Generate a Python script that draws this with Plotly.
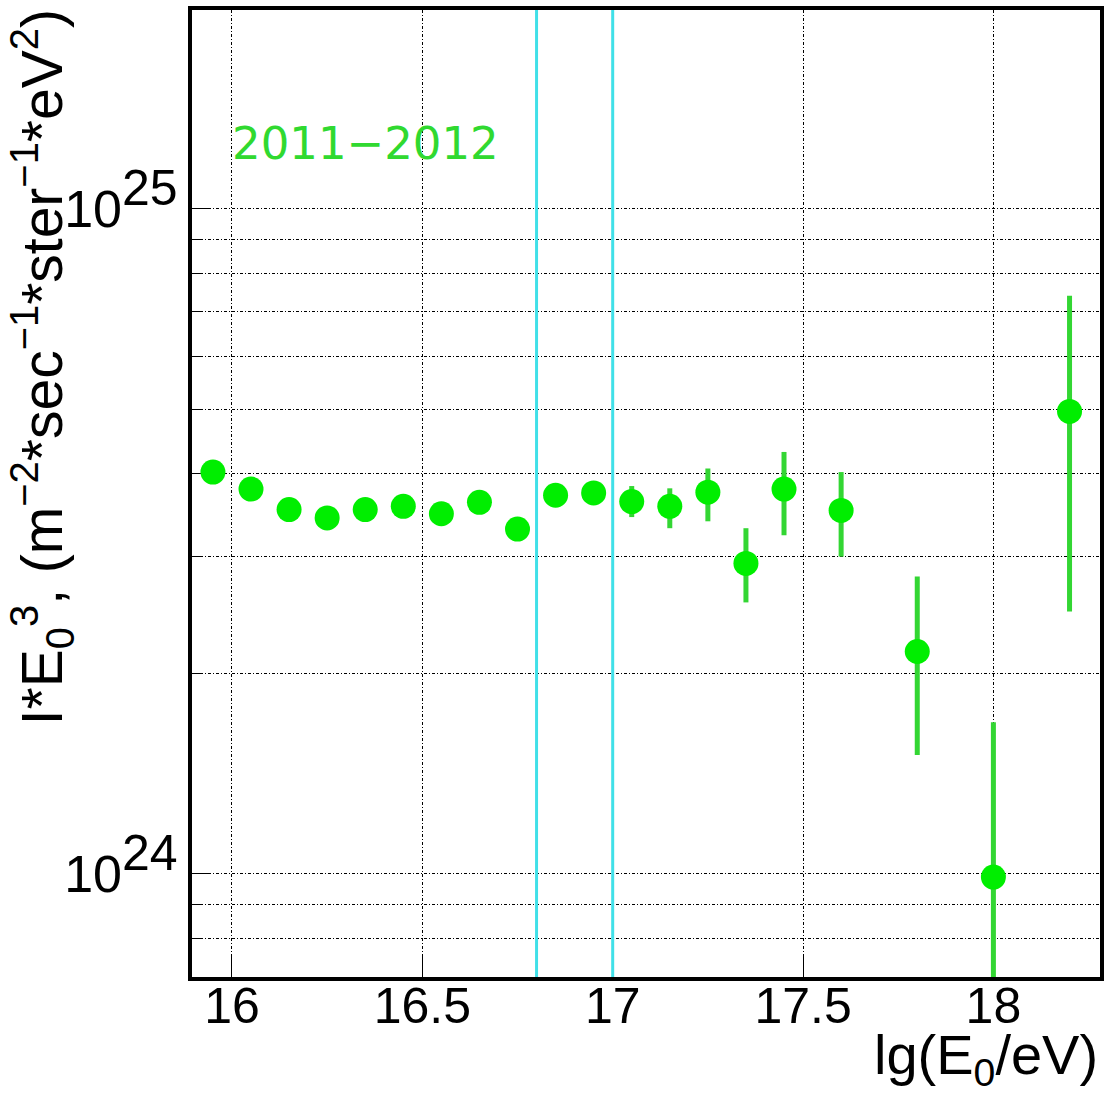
import plotly.graph_objects as go

# data (lg(E0/eV), I*E0^3 in m^-2 s^-1 sr^-1 eV^2)
lgE = [15.95, 16.05, 16.15, 16.25, 16.35, 16.45, 16.55, 16.65, 16.75, 16.85,
       16.95, 17.05, 17.15, 17.25, 17.35, 17.45, 17.6, 17.8, 18.0, 18.2]
flux = [4.02e24, 3.79e24, 3.53e24, 3.43e24, 3.53e24, 3.57e24, 3.48e24, 3.62e24,
        3.30e24, 3.71e24, 3.74e24, 3.63e24, 3.57e24, 3.75e24, 2.93e24, 3.79e24,
        3.52e24, 2.16e24, 0.989e24, 4.96e24]
err_hi = [4.05e24, 3.82e24, 3.56e24, 3.46e24, 3.56e24, 3.60e24, 3.51e24, 3.65e24,
          3.33e24, 3.75e24, 3.79e24, 3.83e24, 3.80e24, 4.07e24, 3.31e24, 4.31e24,
          4.02e24, 2.80e24, 1.69e24, 7.40e24]
err_lo = [3.99e24, 3.76e24, 3.50e24, 3.40e24, 3.50e24, 3.54e24, 3.45e24, 3.59e24,
          3.27e24, 3.67e24, 3.69e24, 3.44e24, 3.31e24, 3.39e24, 2.56e24, 3.23e24,
          3.00e24, 1.51e24, 0.50e24, 2.48e24]
vlines = [16.8, 17.0]
x_ticks = [16, 16.5, 17, 17.5, 18]
x_ticktext = ["16", "16.5", "17", "17.5", "18"]
y_decades = [24, 25]
label_text = "2011\u22122012"

plus = [h - v for h, v in zip(err_hi, flux)]
minus = [v - l for v, l in zip(flux, err_lo)]

fig = go.Figure()
fig.add_trace(go.Scatter(
    x=lgE, y=flux, mode="markers",
    marker=dict(size=25, color="#00ee00", line=dict(width=0)),
    error_y=dict(type="data", symmetric=False, array=plus, arrayminus=minus,
                 color="#33d633", thickness=5, width=0),
    showlegend=False, cliponaxis=True,
))

for xv in vlines:
    fig.add_shape(type="line", xref="x", yref="paper", x0=xv, x1=xv, y0=0, y1=1,
                  line=dict(color="#40e0e8", width=3), layer="above")

grid_dash = "3px,2px,1px,2px"
ytickvals = [10.0 ** d for d in y_decades]
ytext = ["10<sup><span style=\"font-size:50px\">%d</span></sup>" % d for d in y_decades]
minor_vals = [m * 10.0 ** d for d in [23, 24, 25] for m in range(2, 10)]

fig.update_layout(
    width=1104, height=1099,
    margin=dict(l=192, r=4, t=10, b=122),
    paper_bgcolor="white", plot_bgcolor="white",
    font=dict(family="Liberation Sans, Arial, sans-serif", color="black"),
    xaxis=dict(
        range=[15.895, 18.28], tickmode="array", tickvals=x_ticks, ticktext=x_ticktext,
        ticks="inside", ticklen=22, tickwidth=1, tickcolor="black",
        showgrid=True, gridcolor="black", gridwidth=1, griddash=grid_dash,
        showline=True, linecolor="black", linewidth=4, mirror=True,
        tickfont=dict(size=50), zeroline=False, automargin=False,
        ticklabelstandoff=-18, layer="below traces",
    ),
    yaxis=dict(
        type="log", range=[23.845, 25.299], tickmode="array", tickvals=ytickvals,
        ticktext=ytext, ticks="inside", ticklen=16, tickwidth=1, tickcolor="black",
        showgrid=True, gridcolor="black", gridwidth=1, griddash=grid_dash,
        showline=True, linecolor="black", linewidth=4, mirror=True,
        tickfont=dict(size=52), zeroline=False, automargin=False,
        layer="below traces",
        minor=dict(tickmode="array", tickvals=minor_vals, ticks="inside", ticklen=9,
                   tickwidth=1, tickcolor="black", showgrid=True, gridcolor="black",
                   gridwidth=1, griddash=grid_dash),
    ),
)

fig.add_annotation(
    text="I*E<sub>0</sub><sup>3</sup>, (m<sup>\u22122</sup>*sec<sup>\u22121</sup>*ster<sup>\u22121</sup>*eV<sup>2</sup>)",
    xref="paper", yref="paper", x=-0.165, y=1.003, xanchor="center", yanchor="top",
    textangle=-90, showarrow=False, font=dict(size=57, color="black"),
)
fig.add_annotation(
    text="lg(E<sub>0</sub>/eV)", xref="paper", yref="paper", x=1.0, y=-0.123,
    xanchor="right", yanchor="bottom", showarrow=False, font=dict(size=56, color="black"),
)
fig.add_annotation(
    text=label_text, xref="paper", yref="paper", x=0.042, y=0.862,
    xanchor="left", yanchor="middle", showarrow=False,
    font=dict(size=45, color="#30d930", family="DejaVu Sans, sans-serif"),
)

fig.write_html("out.html", config={"displayModeBar": False},
               post_script="document.body.style.margin='0';document.body.style.padding='0';")
